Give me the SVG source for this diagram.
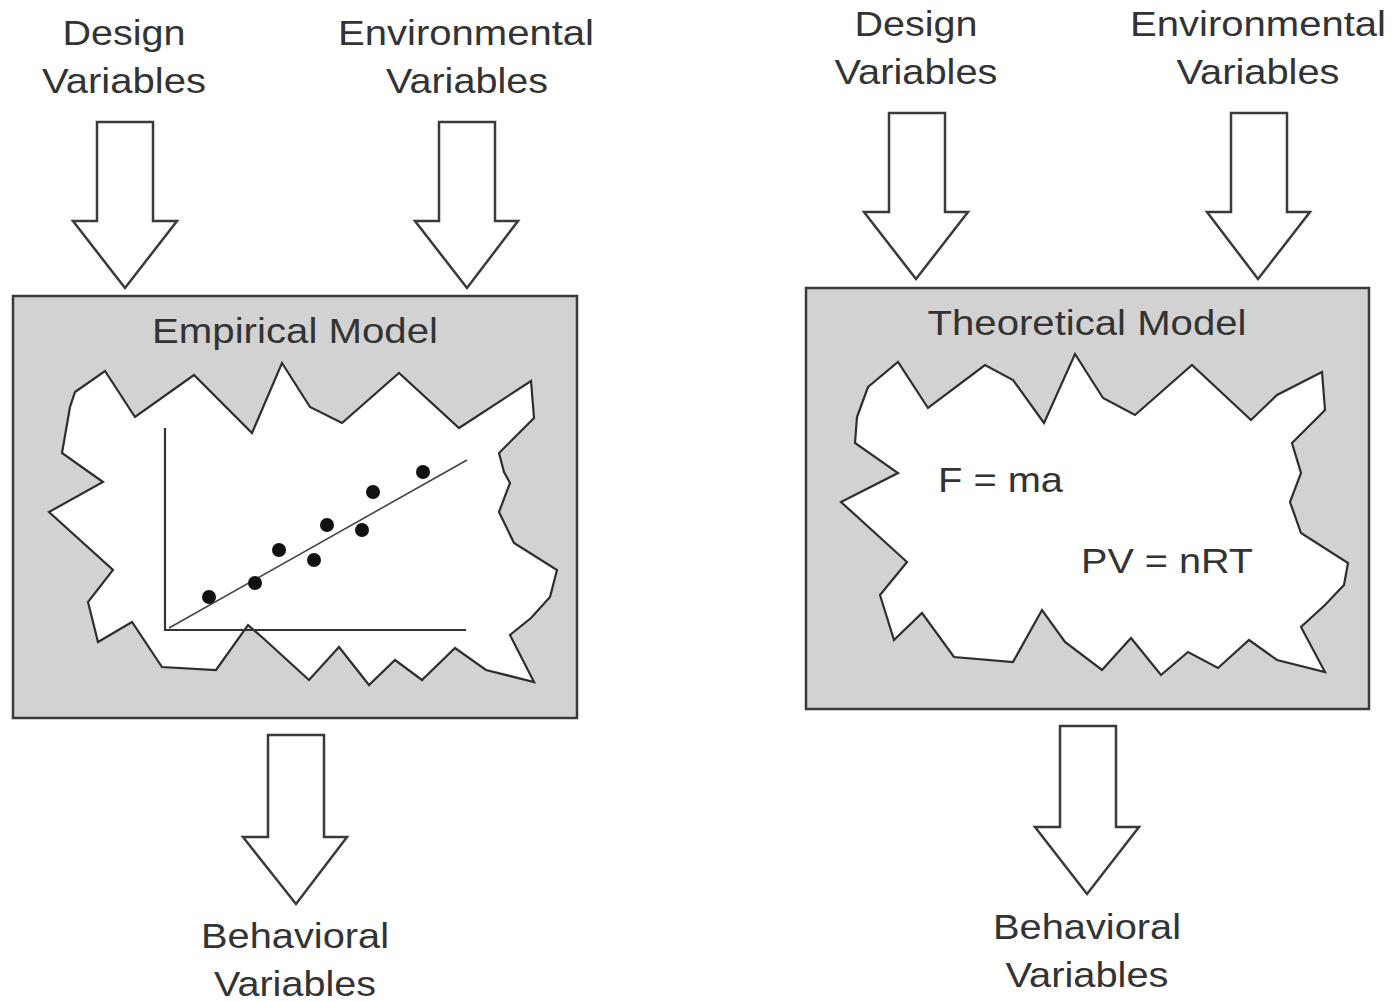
<svg xmlns="http://www.w3.org/2000/svg" width="1393" height="1001" viewBox="0 0 1393 1001">
<style>
.lbl{font-family:"Liberation Sans",Arial,sans-serif;font-size:35px;fill:#333;text-anchor:middle}
.eq{font-family:"Liberation Sans",Arial,sans-serif;font-size:35px;fill:#333}
.box{fill:#d2d2d2;stroke:#3a3a3a;stroke-width:2.5}
.cloud{fill:#fff;stroke:#2e2e2e;stroke-width:2.2;stroke-linejoin:miter}
.arr{fill:#fff;stroke:#3a3a3a;stroke-width:2.5;stroke-linejoin:miter}
.ax{stroke:#333;stroke-width:2.2;fill:none}
.fit{stroke:#444;stroke-width:1.6;fill:none}
.dot{fill:#111}
</style>
<rect width="1393" height="1001" fill="#fff"/>

<g id="connectors">
<polygon class="arr" points="97,122 153,122 153,221 177,221 125,288 73,221 97,221"/>
<polygon class="arr" points="439,122 495,122 495,221 518,221 467,288 415,221 439,221"/>
<polygon class="arr" points="268,735 324,735 324,837 347,837 296,904 243,837 268,837"/>
<polygon class="arr" points="889,113 945,113 945,212 968,212 916,279 864,212 889,212"/>
<polygon class="arr" points="1231,113 1287,113 1287,212 1310,212 1258,279 1207,212 1231,212"/>
<polygon class="arr" points="1060,726 1116,726 1116,827 1139,827 1087,894 1035,827 1060,827"/>
</g>

<g id="left-design">
<text class="lbl" x="124" y="45" textLength="123" lengthAdjust="spacingAndGlyphs">Design</text>
<text class="lbl" x="124" y="93" textLength="164" lengthAdjust="spacingAndGlyphs">Variables</text>
</g>
<g id="left-environmental">
<text class="lbl" x="466" y="45" textLength="256" lengthAdjust="spacingAndGlyphs">Environmental</text>
<text class="lbl" x="467" y="93" textLength="162" lengthAdjust="spacingAndGlyphs">Variables</text>
</g>

<g id="empirical-model">
<rect class="box" x="13" y="296" width="564" height="422"/>
<text class="lbl" x="295" y="343" textLength="286" lengthAdjust="spacingAndGlyphs">Empirical Model</text>
<polygon class="cloud" points="75,392 105,371 135,417 194,375 252,433 282,363 310,407 342,423 399,373 459,428 531,381 534,418 499,453 504,472 510,483 499,512 514,543 557,570 550,597 531,618 510,635 534,682 486,670 455,648 422,680 395,660 369,685 339,647 309,680 263,638 248,625 216,670 162,667 132,622 98,642 88,602 113,570 49,512 103,482 62,453 70,407"/>
<polyline class="ax" points="165,428 165,630 466,630"/>
<line class="fit" x1="169" y1="628" x2="467" y2="460"/>
<circle class="dot" cx="209" cy="597" r="7"/>
<circle class="dot" cx="255" cy="583" r="7"/>
<circle class="dot" cx="279" cy="550" r="7"/>
<circle class="dot" cx="314" cy="560" r="7"/>
<circle class="dot" cx="327" cy="525" r="7"/>
<circle class="dot" cx="362" cy="530" r="7"/>
<circle class="dot" cx="373" cy="492" r="7"/>
<circle class="dot" cx="423" cy="472" r="7"/>
</g>

<g id="left-behavioral">
<text class="lbl" x="295" y="948" textLength="188" lengthAdjust="spacingAndGlyphs">Behavioral</text>
<text class="lbl" x="295" y="996" textLength="162" lengthAdjust="spacingAndGlyphs">Variables</text>
</g>

<g id="right-design">
<text class="lbl" x="916" y="36" textLength="123" lengthAdjust="spacingAndGlyphs">Design</text>
<text class="lbl" x="916" y="84" textLength="163" lengthAdjust="spacingAndGlyphs">Variables</text>
</g>
<g id="right-environmental">
<text class="lbl" x="1258" y="36" textLength="256" lengthAdjust="spacingAndGlyphs">Environmental</text>
<text class="lbl" x="1258" y="84" textLength="163" lengthAdjust="spacingAndGlyphs">Variables</text>
</g>

<g id="theoretical-model">
<rect class="box" x="806" y="288" width="563" height="421"/>
<text class="lbl" x="1087" y="335" textLength="319" lengthAdjust="spacingAndGlyphs">Theoretical Model</text>
<polygon class="cloud" points="868,387 898,362 928,408 985,365 1013,380 1044,423 1075,354 1103,398 1135,415 1192,365 1251,420 1277,395 1322,372 1325,410 1292,443 1301,473 1290,502 1301,533 1348,563 1344,585 1325,605 1301,627 1325,672 1277,660 1249,640 1218,668 1188,652 1161,675 1131,638 1102,670 1065,642 1042,610 1013,662 954,657 922,613 894,640 880,595 907,562 841,502 898,473 855,443 857,417"/>
<text class="eq" x="938" y="492" textLength="125" lengthAdjust="spacingAndGlyphs">F = ma</text>
<text class="eq" x="1081" y="573" textLength="172" lengthAdjust="spacingAndGlyphs">PV = nRT</text>
</g>

<g id="right-behavioral">
<text class="lbl" x="1087" y="939" textLength="188" lengthAdjust="spacingAndGlyphs">Behavioral</text>
<text class="lbl" x="1087" y="987" textLength="163" lengthAdjust="spacingAndGlyphs">Variables</text>
</g>
</svg>
